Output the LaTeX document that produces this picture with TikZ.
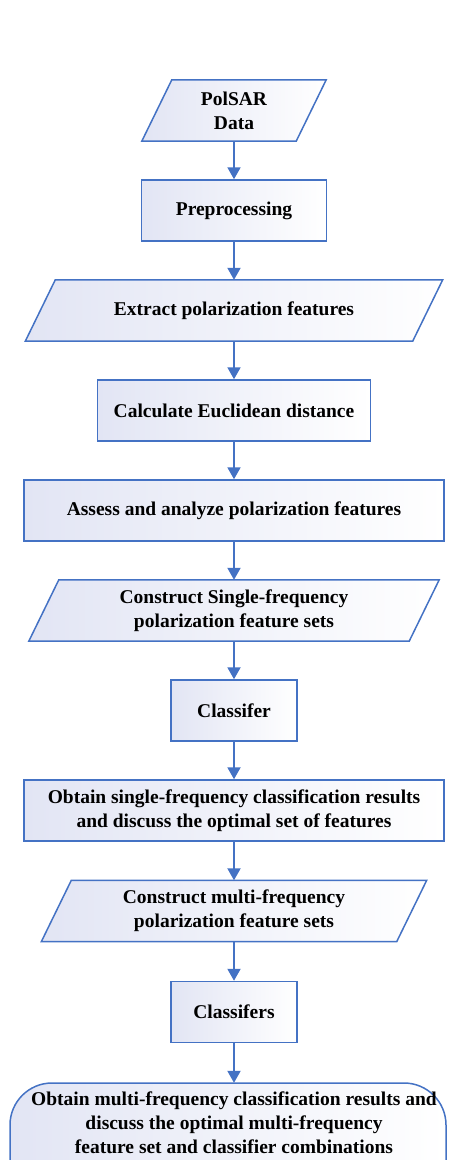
\documentclass[tikz,border=0pt]{standalone}
\usepackage{fontspec}
\setmainfont{Liberation Serif}
\usetikzlibrary{arrows.meta,backgrounds}
\definecolor{flow}{RGB}{68,114,196}
\definecolor{fillA}{RGB}{226,229,244}
\tikzset{
  lbl/.style={inner sep=0pt, align=center, text=black, font=\bfseries\fontsize{19.5}{24}\selectfont, minimum height=61pt},
  box/.style={lbl, draw=flow, line width=1.5pt, left color=fillA, right color=white},
  shapefill/.style={draw=flow, line width=1.5pt, left color=fillA, right color=white},
  arr/.style={draw=flow, line width=2pt, -{Triangle[length=12pt,width=13pt]}},
}
\newcommand{\para}[1]{%
  \begin{pgfonlayer}{background}
  \path[shapefill] ([xshift=15pt]#1.north west) -- ([xshift=15pt]#1.north east) -- ([xshift=-15pt]#1.south east) -- ([xshift=-15pt]#1.south west) -- cycle;
  \end{pgfonlayer}}
\begin{document}
\begin{tikzpicture}[x=1pt,y=-1pt]
\useasboundingbox (0,0) rectangle (452,1160);
\node[lbl, minimum width=154pt] (d) at (234,110.5) {PolSAR\\Data};
\para{d}
\node[box, minimum width=185pt] (p) at (234,210.5) {Preprocessing};
\node[lbl, minimum width=387pt] (e) at (234,310.5) {Extract polarization features};
\para{e}
\node[box, minimum width=273pt] (c) at (234,410.5) {Calculate Euclidean distance};
\node[box, minimum width=420pt] (a) at (234,510.5) {Assess and analyze polarization features};
\node[lbl, minimum width=380pt] (s) at (234,610.5) {Construct Single-frequency\\polarization feature sets};
\para{s}
\node[box, minimum width=126pt] (k1) at (234,710.5) {Classifer};
\node[box, minimum width=420pt] (o) at (234,810.5) {Obtain single-frequency classification results\\and discuss the optimal set of features};
\node[lbl, minimum width=355pt] (m) at (234,911) {Construct multi-frequency\\polarization feature sets};
\para{m}
\node[box, minimum width=126pt] (k2) at (234,1012) {Classifers};
\node[lbl, minimum height=80pt, minimum width=430pt] (f) at (234,1123) {Obtain multi-frequency classification results and\\discuss the optimal multi-frequency\\feature set and classifier combinations};
\begin{pgfonlayer}{background}
\path[shapefill, rounded corners=42pt] (10,1083) rectangle (446,1210);
\end{pgfonlayer}
\draw[arr] (d) -- (p);
\draw[arr] (p) -- (e);
\draw[arr] (e) -- (c);
\draw[arr] (c) -- (a);
\draw[arr] (a) -- (s);
\draw[arr] (s) -- (k1);
\draw[arr] (k1) -- (o);
\draw[arr] (o) -- (m);
\draw[arr] (m) -- (k2);
\draw[arr] (k2) -- (f);
\end{tikzpicture}
\end{document}
